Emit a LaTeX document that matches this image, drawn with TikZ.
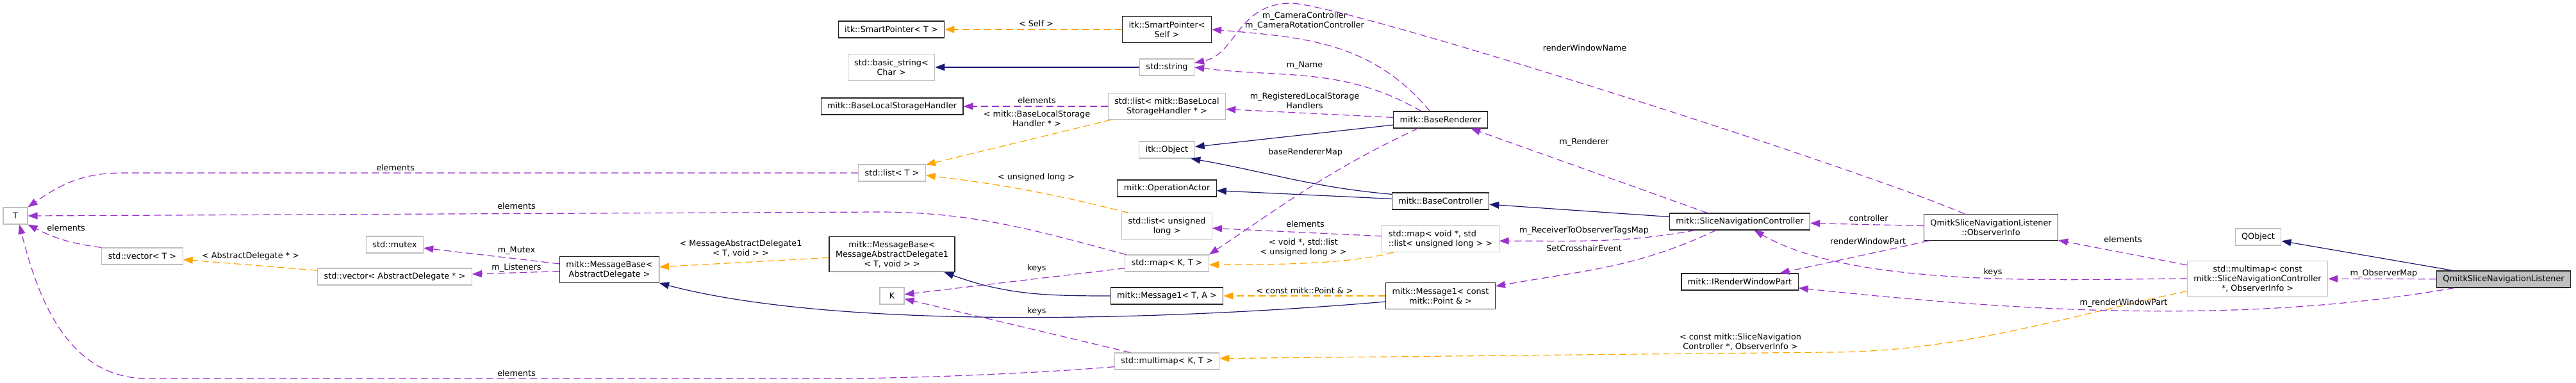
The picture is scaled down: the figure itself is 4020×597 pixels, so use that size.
\documentclass[tikz,border=0pt]{standalone}
\usepackage{fontspec}
\setmainfont{DejaVu Sans}
\usetikzlibrary{arrows.meta}
\definecolor{inhcol}{HTML}{191970}
\definecolor{memcol}{HTML}{9A32CD}
\definecolor{tplcol}{HTML}{FFA500}
\definecolor{undoc}{HTML}{BFBFBF}

\begin{document}
\begin{tikzpicture}[x=1pt,y=-1pt,font=\fontsize{12.8}{15}\selectfont,>={Triangle[length=15pt,width=11pt]},
 doc/.style={draw=black!85,line width=1.1pt,fill=white,inner xsep=10pt,inner ysep=2pt,minimum width=38pt,minimum height=26pt,align=center},
 ext/.style={doc,draw=undoc},
 two/.style={minimum height=41pt},
 three/.style={minimum height=55pt},
 lab/.style={inner sep=0pt,align=center},
 inh/.style={->,draw=inhcol,line width=1.2pt},
 mem/.style={->,draw=memcol,line width=1.2pt,dash pattern=on 11pt off 6pt},
 tpl/.style={->,draw=tplcol,line width=1.2pt,dash pattern=on 11pt off 6pt}]
\useasboundingbox (0,0) rectangle (4020,597);
\node[ext] (tT) at (24,337) {T};\node[ext] (vecT) at (222,400) {std::vector< T >};
\node[ext] (mutex) at (616,382) {std::mutex};\node[ext] (vecAD) at (616,432) {std::vector< AbstractDelegate * >};
\node[doc,two] (mbAD) at (951,421) {mitk::MessageBase<\\AbstractDelegate >};
\node[doc,three] (mbMAD) at (1392,397) {mitk::MessageBase<\\MessageAbstractDelegate1\\< T, void > >};
\node[ext] (kK) at (1392,462) {K};
\node[doc] (spT) at (1391,46) {itk::SmartPointer< T >};\node[ext,two] (bstr) at (1391,105) {std::basic\_string<\\Char >};
\node[doc] (blsh) at (1392,166) {mitk::BaseLocalStorageHandler};\node[ext] (listT) at (1392,270) {std::list< T >};
\node[doc,two] (spSelf) at (1821,46) {itk::SmartPointer<\\Self >};\node[ext] (str) at (1821,105) {std::string};
\node[ext,two] (listBLSH) at (1821,166) {std::list< mitk::BaseLocal\\StorageHandler * >};
\node[ext] (itkObj) at (1821,234) {itk::Object};\node[doc] (opActor) at (1821,294) {mitk::OperationActor};
\node[ext,two] (listUL) at (1821,353) {std::list< unsigned\\long >};\node[ext] (mapKT) at (1821,411) {std::map< K, T >};
\node[doc] (msgTA) at (1821,462) {mitk::Message1< T, A >};\node[ext] (mmapKT) at (1821,564) {std::multimap< K, T >};
\node[doc] (bRend) at (2248,187) {mitk::BaseRenderer};\node[doc] (bCtrl) at (2248,314) {mitk::BaseController};
\node[ext,two,align=left] (mapVoid) at (2248,373) {std::map< void *, std\\::list< unsigned long > >};
\node[doc,two] (msgPt) at (2248,462) {mitk::Message1< const\\mitk::Point \& >};
\node[doc] (sliceNav) at (2715,346) {mitk::SliceNavigationController};\node[doc] (irwp) at (2715,440) {mitk::IRenderWindowPart};
\node[doc,two] (obsInfo) at (3107,355) {QmitkSliceNavigationListener\\::ObserverInfo};
\node[ext,three] (mmapObs) at (3523,435) {std::multimap< const\\mitk::SliceNavigationController\\{}*, ObserverInfo >};
\node[ext] (qobj) at (3524,370) {QObject};\node[doc,fill=undoc] (listener) at (3907,436) {QmitkSliceNavigationListener};
\draw[inh] (str)--(bstr);
\draw[inh] (bRend)--(itkObj);
\draw[inh] (bCtrl.172) to[out=175,in=-10] (itkObj.-20);
\draw[inh] (bCtrl)--(opActor);
\draw[inh] (sliceNav)--(bCtrl);
\draw[inh] (msgTA.west) to[out=180,in=-20] (mbMAD.-19);
\draw[inh] (msgPt.-174) .. controls (1861,497) and (1322,519) .. (mbAD.south east);
\draw[inh] (listener)--(qobj);
\draw[tpl] (spSelf)--(spT) node[lab] (lSelf) at (1617,37) {< Self >};
\draw[tpl] (listBLSH)--(listT) node[lab] (lBLSH) at (1618,185) {< mitk::BaseLocalStorage\\Handler * >};
\draw[tpl] (listUL.161) .. controls (1640,302) and (1570,289) .. (listT.-4) node[lab] (lUL) at (1617,277) {< unsigned long >};
\draw[tpl] (vecAD)--(vecT) node[lab] (lAD) at (391,400) {< AbstractDelegate * >};
\draw[tpl] (mbMAD)--(mbAD) node[lab] (lMAD) at (1156,388) {< MessageAbstractDelegate1\\< T, void > >};
\draw[tpl] (mapVoid.-164) .. controls (2099,414) and (1969,413) .. (mapKT.-2) node[lab] (lVoid) at (2034,386) {< void *, std::list\\< unsigned long > >};
\draw[tpl] (msgPt)--(msgTA) node[lab] (lPt) at (2036,454) {< const mitk::Point \& >};
\draw[tpl] (mmapObs.-170) .. controls (3211,498) and (3050,550) .. (2850,550) -- (mmapKT.3) node[lab] (lObs) at (2716,534) {< const mitk::SliceNavigation\\Controller *, ObserverInfo >};
\draw[mem] (listT.west) -- (190,270) to[out=180,in=35] (tT.north east) node[lab] (eListT) at (617,262) {elements};
\draw[mem] (mapKT.168) .. controls (1617,360) and (1520,331) .. (1370,331) -- (tT.east) node[lab] (eMapKT) at (806,322) {elements};
\draw[mem] (mmapKT.-174) .. controls (1617,583) and (1420,591) .. (1300,591) -- (230,591) to[out=180,in=-76] (tT.-65) node[lab] (eMmapKT) at (806,583) {elements};
\draw[mem] (vecT.north west) to[bend left=10] (tT.south east) node[lab] (eVecT) at (103,356) {elements};
\draw[mem] (mbAD)--(mutex) node[lab] (lMutex) at (806,391) {m\_Mutex};
\draw[mem] (mbAD)--(vecAD) node[lab] (lListeners) at (806,418) {m\_Listeners};
\draw[mem] (mapKT)--(kK) node[lab] (kMapKT) at (1618,419) {keys};
\draw[mem] (mmapKT)--(kK) node[lab] (kMmapKT) at (1618,486) {keys};
\draw[mem] (listBLSH)--(blsh) node[lab] (eBLSH) at (1618,157) {elements};
\draw[mem] (bRend.141) .. controls (2141,65) and (2034,58) .. (spSelf.east) node[lab] (lCam) at (2036,33) {m\_CameraController\\m\_CameraRotationController};
\draw[mem] (bRend.156) .. controls (2098,104) and (2003,122) .. (str.east) node[lab] (lName) at (2036,102) {m\_Name};
\draw[mem] (obsInfo.153) .. controls (2900,262) and (2110,10) .. (2016,5) .. controls (1930,5) and (1930,85) .. (str.9) node[lab] (lRwn) at (2473,75) {renderWindowName};
\draw[mem] (bRend)--(listBLSH) node[lab] (lReg) at (2036,157) {m\_RegisteredLocalStorage\\Handlers};
\draw[mem] (bRend.-159) .. controls (2079,263) and (2011,314) .. (mapKT.north east) node[lab] (lMap) at (2037,238) {baseRendererMap};
\draw[mem] (sliceNav.165)--(bRend.-16) node[lab] (lRend) at (2472,222) {m\_Renderer};
\draw[mem] (sliceNav.-169) .. controls (2532,380) and (2462,376) .. (mapVoid.-2) node[lab] (lTags) at (2472,360) {m\_ReceiverToObserverTagsMap};
\draw[mem] (sliceNav.-160) .. controls (2554,418) and (2474,422) .. (msgPt.10) node[lab] (lCross) at (2472,388) {SetCrosshairEvent};
\draw[mem] (mapVoid)--(listUL) node[lab] (eVoid) at (2037,350) {elements};
\draw[mem] (obsInfo)--(sliceNav) node[lab] (lCtrl) at (2916,341) {controller};
\draw[mem] (obsInfo)--(irwp) node[lab] (lRwp) at (2915,377) {renderWindowPart};
\draw[mem] (mmapObs)--(obsInfo) node[lab] (eObs) at (3313,374) {elements};
\draw[mem] (mmapObs.west) .. controls (3223,436) and (2896,451) .. (sliceNav.-31) node[lab] (kObs) at (3110,425) {keys};
\draw[mem] (listener)--(mmapObs) node[lab] (lObsMap) at (3720,427) {m\_ObserverMap};
\draw[mem] (listener.-170) .. controls (3499,508) and (3149,486) .. (irwp.-6) node[lab] (lMRwp) at (3314,473) {m\_renderWindowPart};
\end{tikzpicture}
\end{document}
